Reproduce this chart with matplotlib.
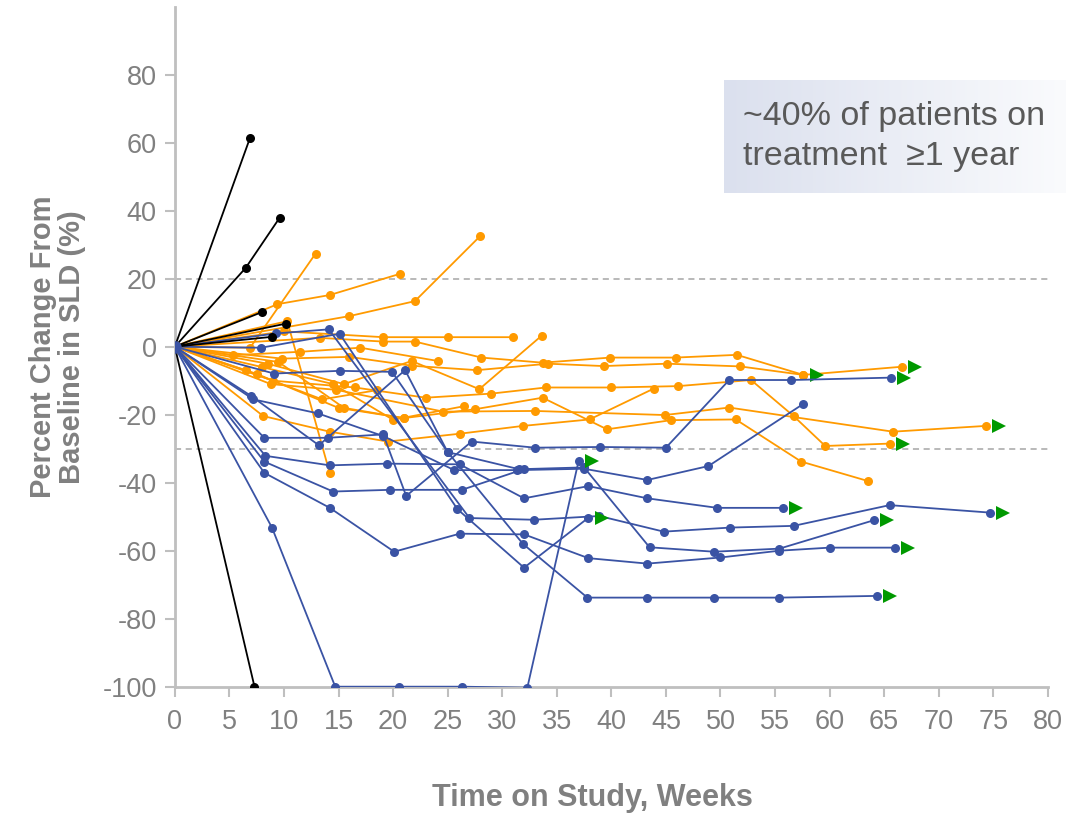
import numpy as np
import matplotlib
matplotlib.use("Agg")
import matplotlib.pyplot as plt

plt.rcParams['font.family'] = ['Liberation Sans', 'DejaVu Sans']

# ── Data (weeks, % change in SLD) ─────────────────────────────
black_weeks = [
    [0, 6.9],
    [0, 6.5, 9.6],
    [0, 8.0],
    [0, 10.2],
    [0, 8.9],
    [0, 7.3],
]
black_vals = [
    [0, 61.5],
    [0, 23.2, 37.9],
    [0, 10.2],
    [0, 6.8],
    [0, 2.9],
    [0, -100],
]

orange_weeks = [
    [0, 6.9, 12.9],
    [0, 10.3, 14.2],
    [0, 9.4, 14.2, 20.6],
    [0, 16.0, 22.0, 28.0],
    [0, 10.0, 19.1, 25.0, 31.0],
    [0, 13.3, 19.1, 22.0, 28.1, 33.7, 39.9, 45.9, 51.5, 57.6, 66.6],
    [0, 9.8, 16.0, 21.7, 27.7, 34.2, 39.3, 45.1, 51.8, 57.6],
    [0, 8.5, 15.5, 21.7, 27.9, 33.6],
    [0, 9.0, 16.5, 23.0, 29.0, 34.0, 40.0, 46.1, 52.8, 56.7, 59.6, 65.5],
    [0, 7.5, 15.0, 21.0, 27.5, 33.7, 39.6, 45.5, 51.4, 57.4, 63.5],
    [0, 8.8, 14.8, 24.6, 33.0, 44.9, 50.8, 65.8, 74.3],
    [0, 8.1, 14.2, 19.5, 26.1, 31.9, 38.0, 43.9],
    [0, 5.3, 11.5, 17.0, 24.1],
    [0, 8.0, 14.5, 20.0, 26.5],
    [0, 9.5, 15.5, 21.0],
    [0, 6.5, 13.5, 18.5],
]
orange_vals = [
    [0, -0.3, 27.4],
    [0, 7.5, -37.2],
    [0, 12.5, 15.2, 21.4],
    [0, 9.0, 13.4, 32.6],
    [0, 4.5, 2.8, 2.8, 2.8],
    [0, 2.6, 1.5, 1.5, -3.2, -4.7, -3.2, -3.2, -2.4, -8.3, -5.9],
    [0, -3.5, -3.0, -5.6, -6.9, -5.0, -5.7, -5.0, -5.8, -8.3],
    [0, -5.0, -11.0, -4.2, -12.5, 3.2],
    [0, -10.0, -12.0, -15.0, -13.8, -12.0, -12.0, -11.6, -9.8, -20.4, -29.2, -28.5],
    [0, -8.0, -18.0, -21.0, -18.4, -15.0, -24.3, -21.6, -21.4, -33.8, -39.5],
    [0, -11.0, -12.7, -19.1, -18.9, -20.1, -17.9, -25.0, -23.3],
    [0, -20.4, -25.0, -27.9, -25.6, -23.3, -21.4, -12.3],
    [0, -2.5, -1.5, -0.3, -4.2],
    [0, -6.0, -11.0, -21.5, -17.5],
    [0, -4.5, -18.0, -21.0],
    [0, -7.0, -15.5, -12.8],
]
orange_ongoing = [False, False, False, False, False, True, True, False,
                  True, False, True, False, False, False, False, False]

blue_weeks = [
    [0, 8.2, 14.0, 19.1, 21.2, 27.2, 33.0, 39.0, 45.0, 50.8, 56.5, 65.6],
    [0, 7.2, 13.1, 19.1, 25.6, 31.4, 37.5, 43.3, 48.9, 57.6],
    [0, 8.3, 14.2, 19.4, 26.1, 32.0, 37.9, 43.3, 49.7, 55.7],
    [0, 9.3, 14.1, 27.0, 32.9, 38.9, 44.8, 50.9, 56.7, 65.5, 74.7],
    [0, 7.9, 15.1, 25.9, 32.0, 37.9],
    [0, 8.2, 14.2, 20.1, 26.1, 32.0, 37.9, 43.3, 50.0, 55.4, 60.0, 66.0],
    [0, 9.1, 15.1, 19.9, 25.0, 31.9, 37.8, 43.3, 49.4, 55.4, 64.3],
    [0, 8.2, 14.5, 19.7, 26.3, 32.0, 37.5, 43.5, 49.4, 55.4, 64.1],
    [0, 8.9, 14.7, 20.5, 26.3, 32.3, 37.0],
    [0, 7.0, 13.2, 21.1, 25.0, 31.5],
]
blue_vals = [
    [0, -26.8, -26.8, -25.8, -43.9, -27.9, -29.7, -29.5, -29.7, -9.8, -9.8, -9.1],
    [0, -15.5, -19.6, -26.3, -36.3, -36.3, -35.9, -39.2, -35.1, -16.8],
    [0, -32.1, -34.9, -34.4, -34.6, -44.6, -41.0, -44.6, -47.4, -47.4],
    [0, 3.9, 5.1, -50.4, -50.9, -49.8, -54.4, -53.2, -52.7, -46.6, -48.8],
    [0, -0.3, 3.8, -47.8, -65.0, -50.3],
    [0, -37.1, -47.4, -60.3, -55.0, -55.2, -62.2, -63.8, -62.0, -60.0, -59.1, -59.1],
    [0, -7.9, -7.1, -7.4, -31.0, -58.0, -73.8, -73.8, -73.8, -73.8, -73.3],
    [0, -33.8, -42.6, -42.1, -42.1, -36.0, -35.5, -59.0, -60.3, -59.4, -51.0],
    [0, -53.2, -100, -100, -100, -100.3, -33.6],
    [0, -14.5, -29.0, -6.9, -31.0, -36.0],
]
blue_ongoing = [True, False, True, True, True, True, True, True, True, False]

X_TICKS = list(range(0, 81, 5))
Y_TICKS = list(range(-100, 81, 20))
REF_LINES = [20, -30]

ORANGE = "#FF9A00"
BLUE = "#3A53A4"
GREEN = "#009900"
GRAY_TXT = "#808080"
AXIS_GRAY = "#BFBFBF"

# ── Figure ────────────────────────────────────────────────────
fig = plt.figure(figsize=(10.66, 8.17), dpi=100)
ax = fig.add_axes([0.164, 0.1595, 0.819, 0.8323])

for y in REF_LINES:
    ax.axhline(y, color="#A6A6A6", linestyle=(0, (4, 3)), linewidth=1.1, zorder=1)


def draw_group(weeks, vals, color, ongoing=None, z=2):
    for i, (w, v) in enumerate(zip(weeks, vals)):
        ax.plot(w, v, color=color, linewidth=1.3, marker="o", markersize=6.5,
                markeredgewidth=0, zorder=z)
        if ongoing is not None and ongoing[i]:
            ax.plot(w[-1] + 1.2, v[-1], marker=">", color=GREEN, markersize=10,
                    markeredgewidth=0, linestyle="none", zorder=z + 1)


draw_group(orange_weeks, orange_vals, ORANGE, orange_ongoing, z=2)
draw_group(blue_weeks, blue_vals, BLUE, blue_ongoing, z=4)
draw_group(black_weeks, black_vals, "black", None, z=6)
ax.plot([0], [0], marker="o", color=BLUE, markersize=8, zorder=8)

ax.set_xlim(0, 80)
ax.set_ylim(-100, 100)
ax.set_xticks(X_TICKS)
ax.set_yticks(Y_TICKS)
ax.set_xticklabels([str(t) for t in X_TICKS])
ax.set_yticklabels([str(t) for t in Y_TICKS])
for s in ["top", "right"]:
    ax.spines[s].set_visible(False)
for s in ["left", "bottom"]:
    ax.spines[s].set_color(AXIS_GRAY)
    ax.spines[s].set_linewidth(2)
ax.tick_params(axis="both", colors=AXIS_GRAY, labelcolor=GRAY_TXT,
               labelsize=19.5, length=7, width=1.5, direction="out")
ax.tick_params(axis="x", pad=9)
ax.tick_params(axis="y", pad=6)

ax.set_ylabel("Percent Change From\nBaseline in SLD (%)", fontsize=21,
              fontweight="bold", color=GRAY_TXT, linespacing=1.05, labelpad=12)
fig.text(592 / 1066, 1 - 798 / 817, "Time on Study, Weeks", fontsize=22,
         fontweight="bold", color=GRAY_TXT, ha="center", va="center")

# ── Callout box with gradient ─────────────────────────────────
box = fig.add_axes([724 / 1066, 1 - 193 / 817, 342 / 1066, 113 / 817])
grad = np.linspace(0, 1, 256).reshape(1, -1)
left_c = np.array([0xDB, 0xE0, 0xEE]) / 255
right_c = np.array([0xFA, 0xFB, 0xFD]) / 255
img = left_c[None, None, :] * (1 - grad[..., None]) + right_c[None, None, :] * grad[..., None]
box.imshow(img, aspect="auto", extent=[0, 1, 0, 1])
box.set_axis_off()
box.text(0.055, 0.5, "~40% of patients on\ntreatment  \u22651 year", fontsize=24.5,
         color="#595959", ha="left", va="center", linespacing=1.38,
         transform=box.transAxes)

fig.savefig("out.png", dpi=100)
